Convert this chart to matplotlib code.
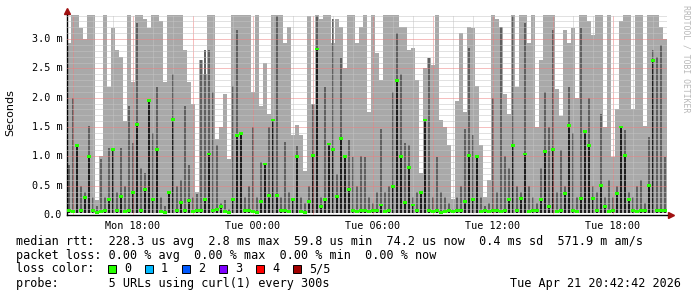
import numpy as np
import matplotlib
matplotlib.use("Agg")
import matplotlib.pyplot as plt
from matplotlib.ticker import MultipleLocator
from matplotlib.patches import Rectangle

# smokeping "last 30 hours" view, one column every 12 minutes
# times are hours since Mon 00:00, rtt values in milliseconds
t_now = 44 + 42 / 60 + 42 / 3600
span_hours = 30
step = 0.2

smoke_hi = [
    2.93, 3.5, 3.5, 3.18, 3.0, 3.5, 3.5, 0.25, 1.0, 3.5,
    2.19, 3.18, 2.81, 2.7, 1.6, 3.5, 2.27, 3.5, 3.5, 3.35,
    3.18, 3.41, 3.5, 3.3, 2.27, 3.5, 3.5, 3.5, 3.5, 2.81,
    2.27, 1.9, 0.4, 2.64, 2.4, 3.5, 3.5, 1.3, 1.5, 2.07,
    0.95, 3.5, 3.5, 3.5, 3.5, 3.5, 2.1, 3.5, 1.85, 2.6,
    1.73, 3.5, 3.5, 3.5, 2.93, 3.2, 1.36, 1.53, 1.36, 0.75,
    3.4, 1.9, 3.5, 3.35, 3.5, 3.5, 2.93, 3.35, 3.2, 2.5,
    3.5, 3.5, 2.93, 3.2, 3.5, 1.76, 3.5, 2.76, 2.3, 3.5,
    3.5, 3.5, 3.5, 3.2, 3.2, 2.81, 2.85, 2.3, 0.71, 2.5,
    2.67, 2.55, 3.5, 1.62, 1.5, 1.2, 0.28, 1.95, 3.1, 1.76,
    3.2, 3.18, 2.2, 1.2, 0.31, 0.6, 3.5, 3.35, 3.2, 2.07,
    1.73, 3.5, 2.19, 3.5, 3.5, 2.93, 3.5, 1.5, 2.64, 3.5,
    3.5, 3.5, 2.15, 1.68, 3.15, 2.93, 3.18, 1.99, 3.5, 3.5,
    3.3, 3.07, 3.5, 3.5, 1.5, 3.5, 0.99, 1.8, 3.3, 3.5,
    3.5, 1.8, 3.5, 3.5, 1.51, 3.5, 3.5, 3.5, 3.2, 3.0,
]

smoke_mid = [
    0.85, 2.0, 1.2, 0.5, 0.4, 1.51, 0.3, 0.15, 0.95, 0.3,
    1.14, 1.05, 0.4, 1.14, 0.5, 1.85, 1.22, 3.27, 0.8, 0.71,
    1.96, 1.39, 2.19, 0.3, 0.15, 0.4, 2.41, 0.5, 0.6, 1.85,
    0.85, 0.3, 0.35, 2.64, 2.81, 2.81, 2.1, 1.2, 0.2, 0.25,
    0.1, 2.2, 3.15, 1.4, 0.3, 0.5, 1.5, 0.3, 0.9, 0.87,
    1.5, 1.62, 3.4, 0.3, 1.25, 0.4, 0.15, 1.18, 0.3, 0.2,
    0.5, 1.9, 3.4, 0.3, 2.19, 1.2, 3.35, 0.7, 2.67, 1.0,
    1.28, 0.99, 0.5, 1.0, 0.99, 0.3, 0.2, 0.4, 1.47, 0.4,
    0.5, 2.1, 3.1, 2.41, 1.22, 1.2, 0.3, 0.4, 0.2, 1.62,
    2.67, 0.3, 0.99, 0.4, 0.3, 0.2, 0.1, 0.3, 0.5, 1.47,
    2.84, 1.36, 1.0, 0.3, 0.15, 0.2, 1.99, 0.4, 3.2, 1.0,
    0.8, 3.4, 0.5, 0.4, 3.27, 0.5, 0.3, 0.2, 0.8, 2.1,
    1.5, 3.15, 0.4, 1.1, 0.5, 2.19, 1.4, 0.3, 3.18, 1.42,
    1.99, 0.5, 0.4, 1.73, 0.3, 0.6, 0.3, 0.5, 1.5, 1.45,
    0.4, 0.3, 0.5, 0.6, 0.2, 1.33, 2.81, 2.7, 2.9, 0.99,
]

median_rtt = [
    0.07, 0.06, 1.18, 0.08, 0.30, 0.99, 0.07, 0.05, 0.06, 0.08,
    0.27, 1.11, 0.07, 0.31, 0.06, 0.07, 0.38, 1.55, 0.07, 0.44,
    1.96, 0.27, 1.11, 0.06, 0.05, 0.38, 1.63, 0.07, 0.22, 0.08,
    0.24, 0.06, 0.07, 0.08, 0.26, 1.04, 0.07, 0.09, 0.15, 0.06,
    0.05, 0.27, 1.35, 1.39, 0.07, 0.08, 0.06, 0.05, 0.23, 0.87,
    0.34, 1.62, 0.34, 0.07, 0.08, 0.06, 0.26, 1.00, 0.06, 0.05,
    0.23, 1.02, 2.83, 0.14, 0.26, 1.21, 1.12, 0.31, 1.31, 1.00,
    0.43, 0.07, 0.06, 0.08, 0.07, 0.06, 0.07, 0.08, 0.17, 0.06,
    0.07, 0.49, 2.29, 1.00, 0.21, 0.81, 0.17, 0.07, 0.38, 1.62,
    0.07, 0.06, 0.08, 0.05, 0.06, 0.07, 0.06, 0.07, 0.08, 0.23,
    1.02, 0.26, 1.00, 0.06, 0.07, 0.06, 0.08, 0.07, 0.06, 0.07,
    0.26, 1.19, 0.07, 0.28, 1.04, 0.06, 0.07, 0.08, 0.27, 1.08,
    0.14, 1.11, 0.06, 0.07, 0.36, 1.53, 0.07, 0.06, 0.28, 1.42,
    1.18, 0.28, 0.07, 0.51, 0.14, 0.06, 0.07, 0.36, 1.50, 1.02,
    0.26, 0.07, 0.06, 0.08, 0.07, 0.51, 2.64, 0.07, 0.08, 0.07,
]
min_rtt = 0.03
y_top = 3.41

xtick_hours = [18, 24, 30, 36, 42]
xtick_labels = ["Mon 18:00", "Tue 00:00", "Tue 06:00", "Tue 12:00", "Tue 18:00"]

loss_labels = ["0", "1", "2", "3", "4", "5/5"]
loss_colors = ["#26ff00", "#00b8ff", "#0059ff", "#7e00ff", "#ff0000", "#a00000"]

rtt_text = ("median rtt:  228.3 us avg  2.8 ms max  59.8 us min  "
            "74.2 us now  0.4 ms sd  571.9 m am/s")
loss_text = "packet loss: 0.00 % avg  0.00 % max  0.00 % min  0.00 % now"
probe_text = "probe:       5 URLs using curl(1) every 300s"
stamp_text = "Tue Apr 21 20:42:42 2026"

W, H = 697, 297
MONO = "DejaVu Sans Mono"


def px(x, y):
    return x / W, 1 - y / H


fig = plt.figure(figsize=(W / 100, H / 100), dpi=100, facecolor="white")
ax = fig.add_axes([67 / W, (H - 215) / H, 600 / W, 200 / H])

t_start = t_now - span_hours
t = t_start + np.arange(len(smoke_hi)) * step
hi = np.array(smoke_hi)
mid = np.array(smoke_mid)
med = np.array(median_rtt)

ax.bar(t, hi - min_rtt, bottom=min_rtt, width=step, align="edge",
       color="#a9a9a9", linewidth=0, zorder=1)
ax.bar(t + step * 0.2, mid - min_rtt, bottom=min_rtt, width=step * 0.6,
       align="edge", color="#606060", linewidth=0, zorder=1.1)
ax.bar(t + step * 0.3, med - min_rtt, bottom=min_rtt, width=step * 0.4,
       align="edge", color="#1e1e1e", linewidth=0, zorder=1.2)
ax.bar(t + step * 0.1, 0.05, bottom=med - 0.025, width=step * 0.8,
       align="edge", color=loss_colors[0], linewidth=0, zorder=4)

ax.set_xlim(t_start, t_now)
ax.set_ylim(0, y_top)

# grid like rrdtool: minor every hour / 0.1 ms, major every 3 h / 0.5 ms
ax.xaxis.set_minor_locator(MultipleLocator(1))
ax.xaxis.set_major_locator(MultipleLocator(3))
ax.yaxis.set_minor_locator(MultipleLocator(0.1))
ax.yaxis.set_major_locator(MultipleLocator(0.5))
ax.grid(which="minor", color="#c4c4c4", linestyle=(0, (1, 1)), linewidth=0.72)
ax.grid(which="major", color="#ee8080", linestyle=(0, (1, 1)), linewidth=0.72)
ax.set_axisbelow(False)
ax.tick_params(which="both", length=0, labelbottom=False, labelleft=False)

# labels drawn separately so that the 3-hour grid lines stay unlabeled
for h, lab in zip(xtick_hours, xtick_labels):
    ax.text(h, -0.03, lab, ha="center", va="top", fontsize=7.3,
            family=MONO, transform=ax.get_xaxis_transform())
for v in np.arange(0, 3.01, 0.5):
    lab = "0.0" if v == 0 else f"{v:.1f} m"
    ax.text(-0.008, v, lab, ha="right", va="center", fontsize=7.3,
            family=MONO, transform=ax.get_yaxis_transform())

for s in ("top", "right"):
    ax.spines[s].set_visible(False)
for s in ("left", "bottom"):
    ax.spines[s].set_color("black")
    ax.spines[s].set_linewidth(1)

ax.plot([0], [1.022], marker="^", markersize=4.5, color="#a01010",
        transform=ax.transAxes, clip_on=False)
ax.plot([1.007], [0], marker=">", markersize=4.5, color="#a01010",
        transform=ax.transAxes, clip_on=False)

fig.text(*px(10, 113), "Seconds", rotation=90, ha="center", va="center",
         fontsize=8)
fig.text(*px(686, 5), "RRDTOOL / TOBI OETIKER", rotation=270, ha="center",
         va="top", fontsize=5.9, family=MONO, color="#b8b8b8")

fs = 8.5
fig.text(*px(16, 241), rtt_text, va="center", fontsize=fs, family=MONO)
fig.text(*px(16, 255), loss_text, va="center", fontsize=fs, family=MONO)
fig.text(*px(16, 269), "loss color:", va="center", fontsize=fs, family=MONO)
for i, (lab, col) in enumerate(zip(loss_labels, loss_colors)):
    x0 = 108 + 37 * i
    fig.patches.append(Rectangle(px(x0, 273), 8 / W, 8 / H, facecolor=col,
                                 edgecolor="black", linewidth=0.7,
                                 transform=fig.transFigure))
    fig.text(*px(x0 + 16, 269), lab, va="center", fontsize=fs, family=MONO)
fig.text(*px(16, 283), probe_text, va="center", fontsize=fs, family=MONO)
fig.text(*px(681, 283), stamp_text, va="center", ha="right", fontsize=fs,
         family=MONO)

fig.savefig("out.png", dpi=100, facecolor="white")
